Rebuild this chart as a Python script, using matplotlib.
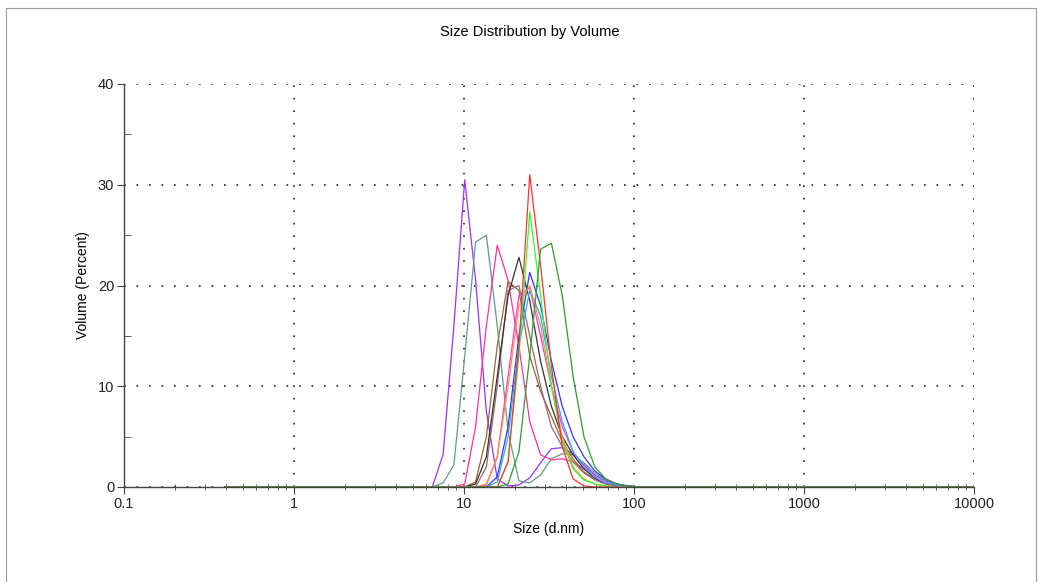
import numpy as np
import matplotlib
matplotlib.use("Agg")
import matplotlib.pyplot as plt
from matplotlib.patches import Rectangle
from matplotlib.ticker import LogLocator, FixedLocator, NullFormatter

plt.rcParams["font.family"] = ["Liberation Sans", "DejaVu Sans"]

# instrument size classes (d.nm), 70 log-spaced bins
SIZES = [0.4, 0.4632, 0.5365, 0.6213, 0.7195, 0.8332, 0.9649, 1.117, 1.294, 1.499,
         1.736, 2.01, 2.328, 2.696, 3.122, 3.615, 4.187, 4.849, 5.615, 6.503,
         7.531, 8.721, 10.1, 11.7, 13.54, 15.69, 18.17, 21.04, 24.36, 28.21,
         32.67, 37.84, 43.82, 50.75, 58.77, 68.06, 78.82, 91.28, 105.7, 122.4,
         141.8, 164.2, 190.1, 220.2, 255.0, 295.3, 342.0, 396.1, 458.7, 531.2,
         615.1, 712.4, 825.0, 955.4, 1106, 1281, 1484, 1718, 1990, 2305,
         2669, 3091, 3580, 4145, 4801, 5560, 6439, 7456, 8635, 10000]

# volume % for bins 19..42 (6.5 nm .. 190 nm), zero elsewhere
FIRST_BIN = 19
violet    = [0, 3.2, 16, 30.5, 20.5, 7.5, 0.8, 0.1, 0.2, 0.9, 2.4, 3.8, 3.9, 3.3, 2.2, 1.2, 0.6, 0.3, 0.1, 0, 0, 0, 0, 0]
greygreen = [0, 0.4, 2.2, 13, 24.3, 25.0, 16, 5.5, 0.6, 0.4, 1.2, 2.8, 3.3, 3.2, 2.4, 1.4, 0.7, 0.3, 0.1, 0, 0, 0, 0, 0]
hotpink   = [0, 0, 0, 0.3, 6, 16, 24, 20.5, 14, 6.5, 3.2, 2.7, 2.8, 2.5, 1.8, 1.0, 0.4, 0.1, 0, 0, 0, 0, 0, 0]
brown     = [0, 0, 0, 0, 0.5, 5, 14, 20.4, 19.5, 13, 9.5, 7, 4.5, 2.8, 1.5, 0.8, 0.3, 0.1, 0, 0, 0, 0, 0, 0]
mauve     = [0, 0, 0, 0, 0, 2, 10, 19.5, 20, 15, 10, 6, 4, 2.5, 1.4, 0.7, 0.3, 0.1, 0, 0, 0, 0, 0, 0]
black     = [0, 0, 0, 0, 0.3, 3, 11, 19, 22.8, 18.5, 12.5, 8, 5, 3.2, 1.8, 0.9, 0.4, 0.2, 0.1, 0, 0, 0, 0, 0]
magenta   = [0, 0, 0, 0, 0, 0.2, 3, 11, 19, 19.8, 15, 10, 6, 3.5, 2, 1, 0.4, 0.2, 0.1, 0, 0, 0, 0, 0]
blue      = [0, 0, 0, 0, 0, 0, 1, 6, 15, 21.3, 18, 12.5, 8, 5, 3, 1.6, 0.8, 0.3, 0.1, 0, 0, 0, 0, 0]
skyblue   = [0, 0, 0, 0, 0, 0, 0.5, 5, 14, 19.5, 17, 11, 6.5, 3.5, 2, 1, 0.4, 0.2, 0, 0, 0, 0, 0, 0]
orange    = [0, 0, 0, 0, 0, 0.3, 3, 10, 18, 20, 16, 10, 5, 2, 0.8, 0.3, 0.1, 0, 0, 0, 0, 0, 0, 0]
red       = [0, 0, 0, 0, 0, 0, 0, 2.5, 14, 31, 22, 12, 4, 0.8, 0.1, 0, 0, 0, 0, 0, 0, 0, 0, 0]
lime      = [0, 0, 0, 0, 0, 0, 0, 2.5, 13, 27.3, 19, 10, 4.5, 1.8, 0.7, 0.3, 0.1, 0, 0, 0, 0, 0, 0, 0]
darkgreen = [0, 0, 0, 0, 0, 0, 0, 0.3, 3.5, 13, 23.6, 24.2, 19, 11, 5, 2, 0.8, 0.3, 0.1, 0, 0, 0, 0, 0]

SERIES = [
    (violet, "#9933ff"), (greygreen, "#669988"), (hotpink, "#ff3399"),
    (brown, "#996633"), (mauve, "#996677"), (black, "#333333"),
    (magenta, "#ff33ff"), (blue, "#3333ff"), (skyblue, "#33aaee"),
    (orange, "#ff9933"), (lime, "#33ff33"), (red, "#ff3333"),
    (darkgreen, "#339933"),
]

fig = plt.figure(figsize=(10.43, 5.82), dpi=100)
fig.patches.append(Rectangle((6 / 1043, -0.05), 1030 / 1043, 1.05 - 8 / 582,
                             transform=fig.transFigure, fill=False,
                             edgecolor="#999999", linewidth=0.8))

ax = fig.add_axes([124 / 1043, 95 / 582, 850 / 1043, 403 / 582])
sizes = np.array(SIZES)
for vals, col in SERIES:
    y = np.zeros(len(SIZES))
    y[FIRST_BIN:FIRST_BIN + len(vals)] = vals
    ax.plot(sizes, y, color=col, lw=0.9)

ax.set_xscale("log")
ax.set_xlim(0.1, 10000)
ax.set_ylim(0, 40)
ax.xaxis.set_major_locator(FixedLocator([0.1, 1, 10, 100, 1000, 10000]))
ax.set_xticklabels(["0.1", "1", "10", "100", "1000", "10000"])
ax.xaxis.set_minor_locator(LogLocator(base=10, subs=np.arange(2, 10)))
ax.xaxis.set_minor_formatter(NullFormatter())
ax.set_yticks([0, 10, 20, 30, 40])
ax.set_yticks([5, 15, 25, 35], minor=True)

ax.grid(True, which="major", color="#222222", linestyle=(0, (1, 6.5)), linewidth=1.2)
for s in ["top", "right"]:
    ax.spines[s].set_visible(False)
for s in ["left", "bottom"]:
    ax.spines[s].set_color("#444444")
    ax.spines[s].set_linewidth(1.0)

ax.tick_params(axis="both", which="major", direction="out", length=5,
               color="#444444", labelsize=10.5, labelcolor="#222222", pad=2)
ax.tick_params(axis="y", which="minor", direction="in", length=5, color="#444444")
ax.tick_params(axis="x", which="minor", direction="inout", length=5, color="#444444")

ax.set_xlabel("Size (d.nm)", fontsize=10, labelpad=8)
ax.set_ylabel("Volume (Percent)", fontsize=10, labelpad=6)
fig.text(530 / 1043, 1 - 32 / 582, "Size Distribution by Volume",
         ha="center", va="center", fontsize=10.5)

fig.savefig("out.png", dpi=100)
